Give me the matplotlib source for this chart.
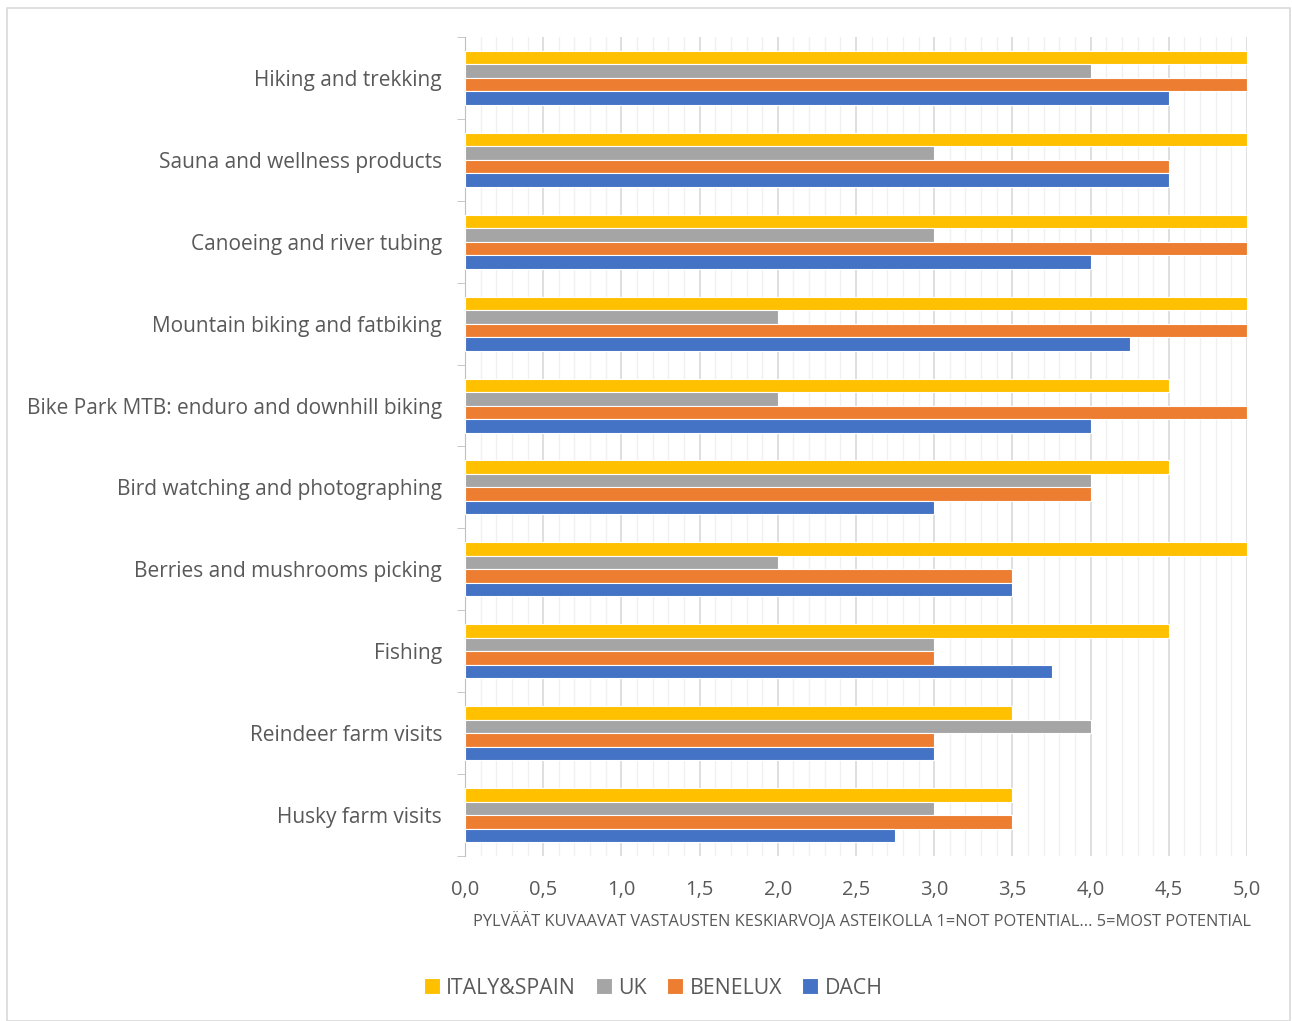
import numpy as np
import matplotlib.pyplot as plt
from matplotlib.ticker import MultipleLocator, FuncFormatter
from matplotlib.patches import Rectangle

plt.rcParams['font.family'] = ['Open Sans', 'DejaVu Sans']

activities = ['Hiking and trekking', 'Sauna and wellness products',
              'Canoeing and river tubing', 'Mountain biking and fatbiking',
              'Bike Park MTB: enduro and downhill biking',
              'Bird watching and photographing', 'Berries and mushrooms picking',
              'Fishing', 'Reindeer farm visits', 'Husky farm visits']

italy_spain = [5.0, 5.0, 5.0, 5.0, 4.5, 4.5, 5.0, 4.5, 3.5, 3.5]
uk = [4.0, 3.0, 3.0, 2.0, 2.0, 4.0, 2.0, 3.0, 4.0, 3.0]
benelux = [5.0, 4.5, 5.0, 5.0, 5.0, 4.0, 3.5, 3.0, 3.0, 3.5]
dach = [4.5, 4.5, 4.0, 4.25, 4.0, 3.0, 3.5, 3.75, 3.0, 2.75]

series = [('ITALY&SPAIN', italy_spain, '#FFC000'),
          ('UK', uk, '#A5A5A5'),
          ('BENELUX', benelux, '#ED7D31'),
          ('DACH', dach, '#4472C4')]

text_col = '#595959'

fig = plt.figure(figsize=(12.92, 10.21), dpi=100)
ax = fig.add_axes([465 / 1292, 1 - 856 / 1021, (1247 - 465) / 1292, (856 - 37) / 1021])

y = np.arange(len(activities))
h = 0.165
for i, (name, vals, col) in enumerate(series):
    ax.barh(y + (i - 1.5) * h, vals, height=h, color=col, label=name,
            edgecolor='white', linewidth=0.8, zorder=3)

ax.set_xlim(0, 5)
ax.set_ylim(len(activities) - 0.5, -0.5)
ax.xaxis.set_major_locator(MultipleLocator(0.5))
ax.xaxis.set_minor_locator(MultipleLocator(0.1))
ax.xaxis.set_major_formatter(FuncFormatter(lambda v, p: f'{v:.1f}'.replace('.', ',')))
ax.grid(axis='x', which='major', color='#D9D9D9', linewidth=1.2, zorder=0)
ax.grid(axis='x', which='minor', color='#F0F0F0', linewidth=1.0, zorder=0)

ax.set_yticks(y)
ax.set_yticklabels(activities, fontsize=15, color=text_col)
ax.set_yticks(np.arange(len(activities) + 1) - 0.5, minor=True)
ax.tick_params(axis='y', which='major', length=0, pad=16.5)
ax.tick_params(axis='y', which='minor', length=6, color='#BFBFBF', direction='out')
ax.tick_params(axis='x', which='both', length=0, labelsize=14.5, labelcolor=text_col, pad=17)

for s in ['top', 'right', 'bottom']:
    ax.spines[s].set_visible(False)
ax.spines['left'].set_color('#BFBFBF')

ax.set_xlabel('PYLVÄÄT KUVAAVAT VASTAUSTEN KESKIARVOJA ASTEIKOLLA 1=NOT POTENTIAL... 5=MOST POTENTIAL',
              fontsize=11.8, color=text_col)
ax.xaxis.set_label_coords(0.508, -0.069)

fig.legend(loc='center', bbox_to_anchor=(653 / 1292, 1 - 988 / 1021), ncol=4,
           frameon=False, fontsize=15.3, labelcolor=text_col, handlelength=0.75,
           handleheight=0.75, handletextpad=0.3, columnspacing=0.95)

fig.patches.append(Rectangle((7 / 1292, 0), 1283 / 1292, 1 - 8 / 1021,
                             transform=fig.transFigure, fill=False,
                             edgecolor='#D9D9D9', linewidth=1.2))

fig.savefig('out.png', dpi=100)
